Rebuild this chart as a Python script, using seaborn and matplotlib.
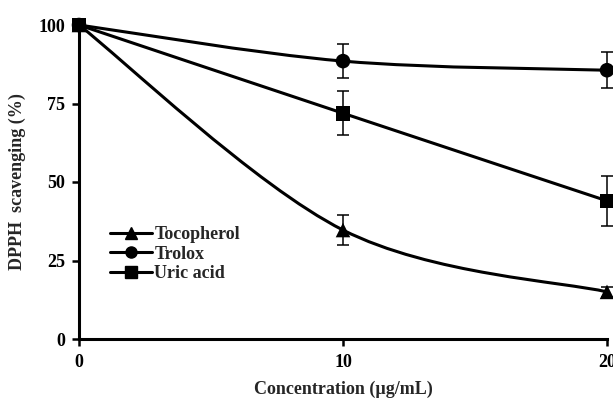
import numpy as np
import pandas as pd
import matplotlib
matplotlib.use("Agg")
import matplotlib.pyplot as plt
import seaborn as sns
from matplotlib.path import Path
from matplotlib.patches import PathPatch
from matplotlib.lines import Line2D

# ---- data ----
concentration = [0, 10, 20]
tocopherol = [100, 34.7, 15.0]
tocopherol_err = [0, 4.8, 1.5]
trolox = [100, 88.5, 85.6]
trolox_err = [0, 5.5, 5.7]
uric_acid = [100, 71.9, 44.0]
uric_acid_err = [0, 7.0, 8.0]
series_names = ["Tocopherol", "Trolox", "Uric acid"]
x_ticks = [0, 10, 20]
y_ticks = [0, 25, 50, 75, 100]

sns.set_theme(style="white")
plt.rcParams['font.family'] = ['Liberation Serif', 'DejaVu Serif']
plt.rcParams['font.weight'] = 'bold'

rows = []
for name, vals, errs in zip(series_names, [tocopherol, trolox, uric_acid],
                            [tocopherol_err, trolox_err, uric_acid_err]):
    for c, v, e in zip(concentration, vals, errs):
        rows.append({"conc": c, "val": v, "err": e, "compound": name})
df = pd.DataFrame(rows)

fig = plt.figure(figsize=(6.13, 3.99), dpi=100)
ax = fig.add_axes([79/613, (399-339)/399, (607-79)/613, (339-25)/399])

markers = {"Tocopherol": "^", "Trolox": "o", "Uric acid": "s"}


def smooth_path(xs, ys):
    pts = np.column_stack([xs, ys]).astype(float)
    n = len(pts)
    verts = [pts[0]]
    codes = [Path.MOVETO]
    for i in range(n - 1):
        p0 = pts[i - 1] if i > 0 else pts[i]
        p1 = pts[i]
        p2 = pts[i + 1]
        p3 = pts[i + 2] if i + 2 < n else pts[i + 1]
        c1 = p1 + (p2 - p0) / 6.0
        c2 = p2 - (p3 - p1) / 6.0
        verts += [c1, c2, p2]
        codes += [Path.CURVE4] * 3
    return Path(verts, codes)


for name in series_names:
    sub = df[df.compound == name]
    patch = PathPatch(smooth_path(sub.conc.values, sub.val.values),
                      facecolor='none', edgecolor='black', lw=2.2, zorder=2,
                      clip_on=False)
    ax.add_patch(patch)
    ax.errorbar(sub.conc.values, sub.val.values, yerr=sub.err.values,
                fmt='none', ecolor='black', elinewidth=1.1, capsize=4.5,
                capthick=1.1, zorder=3, clip_on=False)

sns.scatterplot(data=df, x="conc", y="val", style="compound", markers=markers,
                color="black", s=110, edgecolor="black", linewidth=0,
                legend=False, ax=ax, zorder=4, clip_on=False)

ax.set_xlim(0, 20)
ax.set_ylim(0, 100)
ax.set_xticks(x_ticks)
ax.set_yticks(y_ticks)
ax.set_xticklabels([str(t) for t in x_ticks], fontsize=13, fontweight='bold')
ax.set_yticklabels([str(t) for t in y_ticks], fontsize=13, fontweight='bold')
ax.tick_params(axis='both', direction='out', length=5, width=1.8,
               colors='black', left=True, bottom=True)
ax.tick_params(axis='y', pad=5)
ax.tick_params(axis='x', pad=6)
for s in ['top', 'right']:
    ax.spines[s].set_visible(False)
for s in ['left', 'bottom']:
    ax.spines[s].set_linewidth(2.2)
    ax.spines[s].set_color('black')

ax.set_xlabel("Concentration (µg/mL)", fontsize=13, fontweight='bold', labelpad=7)
ax.set_ylabel("DPPH  scavenging (%)", fontsize=13, fontweight='bold')
ax.yaxis.set_label_coords(-0.100, 0.5)

handles = [Line2D([0], [0], color='black', lw=2.2, marker=markers[n],
                  markersize=8) for n in series_names]
leg = ax.legend(handles, series_names, loc='center left',
                bbox_to_anchor=(0.045, 0.27), frameon=False, handlelength=2.3,
                handletextpad=0.15, labelspacing=0.15, borderaxespad=0,
                prop={'weight': 'bold', 'size': 13})
ax.set_facecolor('white')
fig.patch.set_facecolor('white')

fig.savefig("out.png", dpi=100)
